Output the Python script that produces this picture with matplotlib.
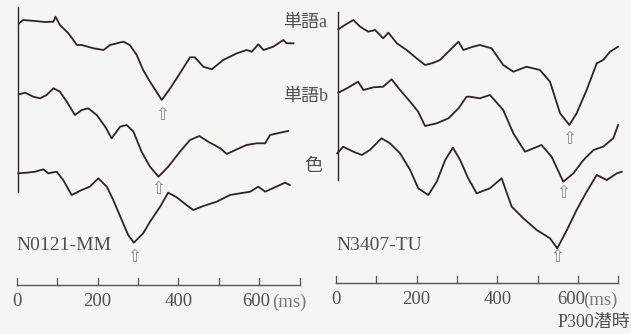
import matplotlib
matplotlib.use("Agg")
import matplotlib.pyplot as plt
import numpy as np

# ---- data (time in ms, amplitude in arbitrary units, positive = downward) ----
# Left subject N0121-MM
L_a_t = [6, 16, 45, 70, 91, 96, 107, 128, 149, 161, 190, 215, 231, 264, 280, 297, 313, 330, 359,
         380, 404, 429, 441, 462, 483, 511, 545, 569, 582, 598, 611, 635, 660, 668, 685]
L_a_v = [0, -3.3, -2.3, -1.3, -1.6, -6.6, 1.7, 10, 21.7, 21.7, 25, 26.7, 21.7, 18.4, 21.7, 31.7, 46.7, 58.4, 76.7,
         65, 50, 34, 34, 43.4, 46, 36.7, 30, 26.7, 28.4, 21, 26.7, 23.4, 16.7, 20, 20]

L_b_t = [6, 21, 41, 58, 74, 91, 107, 124, 144, 161, 177, 198, 219, 235, 256, 272, 289, 309, 330, 351,
         375, 404, 429, 452, 474, 504, 520, 545, 569, 594, 615, 627, 652, 672]
L_b_v = [0, -1.6, 2.4, 4, 0.7, -6, -2.6, 7.4, 20.7, 15.7, 14, 20.7, 32.4, 44, 32.4, 30.7, 37.4, 57.4, 72.4, 82.4,
         72.4, 57.4, 45.7, 41.7, 47.4, 54, 59.7, 55, 50.7, 49, 49, 40.7, 38.4, 36.7]

L_c_t = [4, 25, 45, 66, 78, 99, 115, 136, 161, 181, 202, 223, 239, 260, 276, 290, 313, 330, 355,
         375, 396, 417, 437, 462, 495, 528, 553, 578, 598, 615, 639, 664, 676]
L_c_v = [0, -0.6, -1.6, -4, 0, -1.6, 6.7, 21.7, 16.7, 13.4, 5, 13.4, 26.7, 46.7, 61.7, 69.4, 60, 48.4, 33.4,
         19.4, 24, 30.7, 36.7, 32.7, 28.4, 21.7, 20, 18.4, 13.4, 18.4, 14, 9.4, 11.7]

# Right subject N3407-TU
R_a_t = [6, 22, 43, 60, 80, 97, 117, 130, 151, 175, 200, 221, 238, 258, 283, 304, 316, 340, 357,
         386, 415, 440, 473, 506, 531, 556, 579, 597, 622, 647, 663, 680, 700]
R_a_v = [0, -4.3, -9.3, -2.6, 2.4, 0.7, 9, 3.4, 14, 20.7, 29, 35.7, 34, 30.7, 20.7, 12.4, 20.7, 17.4, 15.7,
         19, 35.7, 42.4, 37.4, 40.7, 52.4, 84, 95.7, 84, 60.7, 34, 30.7, 22.4, 17.4]

R_b_t = [6, 27, 55, 68, 93, 117, 138, 159, 184, 204, 221, 250, 279, 304, 324, 332, 357, 382,
         415, 440, 469, 490, 510, 535, 564, 589, 614, 639, 663, 688, 700]
R_b_v = [0, -4.4, -11, -2.7, -5.4, -6, -13.4, -2.7, 9, 19, 33.3, 30.6, 25.6, 15.6, 4, 4, 5.6, 2.3,
         17.3, 40.6, 59, 55.6, 52.3, 64, 89, 80.6, 67.3, 57.3, 54, 45.6, 32.3]

R_c_t = [3, 18, 43, 64, 84, 113, 134, 159, 184, 204, 229, 250, 271, 290, 308, 328, 349, 382,
         411, 436, 465, 498, 531, 549, 573, 597, 622, 647, 672, 697, 709]
R_c_v = [0, -6.6, -1.6, 1.7, -3.3, -15, -10, 0, 16.7, 35, 41.7, 28.4, 6.7, -5.6, 6.7, 25, 40, 35,
         25, 53.4, 65, 76.7, 85, 95, 76.7, 56.7, 38.4, 21.7, 26.7, 20, 18.4]

x_tick_values = [0, 100, 200, 300, 400, 500, 600, 700]
x_tick_labels = ["0", "", "200", "", "400", "", "600", ""]
condition_labels = ["単語a", "単語b", "色"]
subject_labels = ["N0121-MM", "N3407-TU"]
unit_label = "(ms)"
latency_label = "P300潜時"

# ---- layout constants (pixels) ----
W, H = 631, 334
BG = "#f5f5f3"
LINE = "#33202a"
TEXT = "#505050"
FONT = ["Liberation Serif", "Noto Sans CJK JP", "DejaVu Sans"]

fig = plt.figure(figsize=(W / 100, H / 100), dpi=100)
fig.patch.set_facecolor(BG)

panels = [
    dict(x0=16.7, x1=299.5, offsets=[23.3, 94.3, 173.3], axis_y=285, vline=(7, 192),
         series=[(L_a_t, L_a_v), (L_b_t, L_b_v), (L_c_t, L_c_v)], arrow_gap=[15, 12, 14],
         label=subject_labels[0], unit_x=632, six_dx=-6),
    dict(x0=336.0, x1=618.1, offsets=[29.3, 92.7, 153.3], axis_y=283, vline=(12, 180),
         series=[(R_a_t, R_a_v), (R_b_t, R_b_v), (R_c_t, R_c_v)], arrow_gap=[14, 11, 9],
         label=subject_labels[1], unit_x=613, six_dx=-16),
]

for p in panels:
    ax = fig.add_axes([p["x0"] / W, 0, (p["x1"] - p["x0"]) / W, 1])
    ax.set_xlim(0, 700)
    ax.set_ylim(H, 0)
    ax.axis("off")
    ax.patch.set_alpha(0)
    # vertical reference line
    ax.plot([4, 4], p["vline"], color=LINE, lw=1.0, clip_on=False)
    for (t, v), off, gap in zip(p["series"], p["offsets"], p["arrow_gap"]):
        t = np.asarray(t, float)
        v = np.asarray(v, float)
        ax.plot(t, off + v, color=LINE, lw=1.3, clip_on=False)
        k = int(np.argmax(v))
        ax.text(t[k], off + v[k] + gap, "⇧", ha="center", va="center", fontsize=12,
                color="#8a8a8a", family="DejaVu Sans")
    # time axis
    ay = p["axis_y"]
    ax.plot([0, 700], [ay, ay], color="#555555", lw=1.0, clip_on=False)
    for tv, tl in zip(x_tick_values, x_tick_labels):
        ax.plot([tv, tv], [ay - 7, ay], color="#555555", lw=0.9, clip_on=False)
        if tl:
            dx = p["six_dx"] if tl == "600" else 0
            ax.text(tv + dx, ay + 17, tl, ha="center", va="center", fontsize=13.5,
                    color=TEXT, family=FONT)
    ax.text(p["unit_x"], ay + 17, unit_label, ha="left", va="center", fontsize=13.5,
            color="#777777", family=FONT)
    ax.text(0, 245, p["label"], ha="left", va="center", fontsize=14, color=TEXT, family=FONT)

# condition labels between panels
fig.text(283 / W, 1 - 22 / H, condition_labels[0], ha="left", va="center", fontsize=13, color=TEXT, family=FONT)
fig.text(283 / W, 1 - 97 / H, condition_labels[1], ha="left", va="center", fontsize=13, color=TEXT, family=FONT)
fig.text(304 / W, 1 - 166 / H, condition_labels[2], ha="left", va="center", fontsize=13, color=TEXT, family=FONT)
fig.text(558 / W, 1 - 322 / H, latency_label, ha="left", va="center", fontsize=13, color=TEXT, family=FONT)

fig.savefig("out.png", dpi=100, facecolor=BG)
